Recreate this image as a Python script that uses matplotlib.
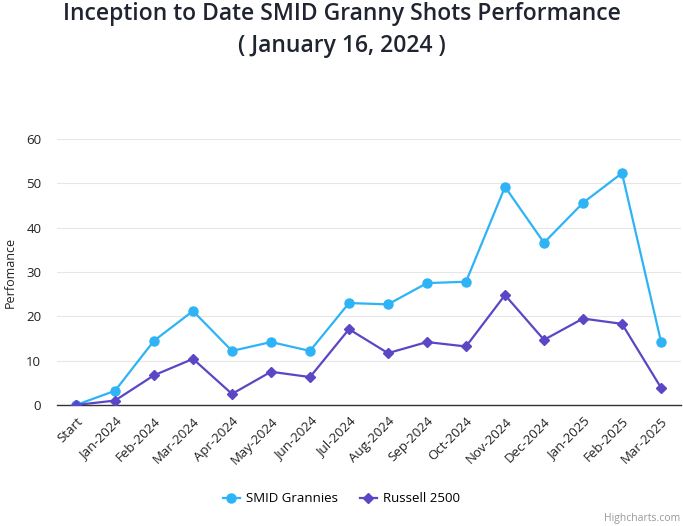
import numpy as np
import matplotlib.pyplot as plt
from matplotlib.lines import Line2D

categories = ['Start', 'Jan-2024', 'Feb-2024', 'Mar-2024', 'Apr-2024', 'May-2024',
              'Jun-2024', 'Jul-2024', 'Aug-2024', 'Sep-2024', 'Oct-2024', 'Nov-2024',
              'Dec-2024', 'Jan-2025', 'Feb-2025', 'Mar-2025']
smid = [0, 3.2, 14.5, 21.2, 12.2, 14.2, 12.2, 23.0, 22.7, 27.5, 27.8, 49.2,
        36.6, 45.6, 52.3, 14.3]
russell = [0, 1.0, 6.7, 10.4, 2.5, 7.5, 6.3, 17.1, 11.7, 14.2, 13.2, 24.8,
           14.7, 19.5, 18.3, 3.9]

c_smid = '#2db3f6'
c_rus = '#5a47c5'

plt.rcParams['font.family'] = ['Open Sans', 'DejaVu Sans']

fig = plt.figure(figsize=(6.83, 5.26), dpi=100)
ax = fig.add_axes([56.5 / 683, 1 - 405 / 526, 624 / 683, 266 / 526])

x = np.arange(len(categories))
ax.plot(x, smid, color=c_smid, lw=1.6, marker='o', ms=6.5, zorder=3)
ax.plot(x, russell, color=c_rus, lw=1.6, marker='D', ms=5, zorder=3)

ax.set_xlim(-0.5, len(categories) - 0.5)
ax.set_ylim(0, 60)
ax.set_yticks(range(0, 61, 10))
ax.set_xticks(x)
ax.set_xticklabels(categories, rotation=45, ha='right', rotation_mode='anchor',
                   fontsize=9.5, color='#222222')
ax.tick_params(axis='x', length=0, pad=7)
ax.tick_params(axis='y', length=0, labelsize=9.5, labelcolor='#222222', pad=11)
ax.grid(axis='y', color='#e6e6e6', lw=0.8)
ax.set_axisbelow(True)
for s in ['top', 'right', 'left']:
    ax.spines[s].set_visible(False)
ax.spines['bottom'].set_color('#333333')
ax.spines['bottom'].set_linewidth(1)
ax.set_ylabel('Perfomance', fontsize=9, color='#222222')
ax.yaxis.set_label_coords(-0.063, 0.5)

fig.text(0.5, 1 - 14 / 526, 'Inception to Date SMID Granny Shots Performance',
         ha='center', va='center', fontsize=16.5, color='#1f2430', fontweight='semibold')
fig.text(0.5, 1 - 46 / 526, '( January 16, 2024 )',
         ha='center', va='center', fontsize=16.5, color='#1f2430', fontweight='semibold')

handles = [Line2D([], [], color=c_smid, lw=1.6, marker='o', ms=6.5),
           Line2D([], [], color=c_rus, lw=1.6, marker='D', ms=5)]
fig.legend(handles, ['SMID Grannies', 'Russell 2500'], loc='center',
           bbox_to_anchor=(0.5, 1 - 499 / 526), ncol=2, frameon=False,
           fontsize=9.5, handlelength=1.3, handletextpad=0.5, columnspacing=1.6)

fig.text(1 - 3 / 683, 1 - 518 / 526, 'Highcharts.com', ha='right', va='center',
         fontsize=7.5, color='#999999')

fig.savefig('out.png', dpi=100, facecolor='white')
